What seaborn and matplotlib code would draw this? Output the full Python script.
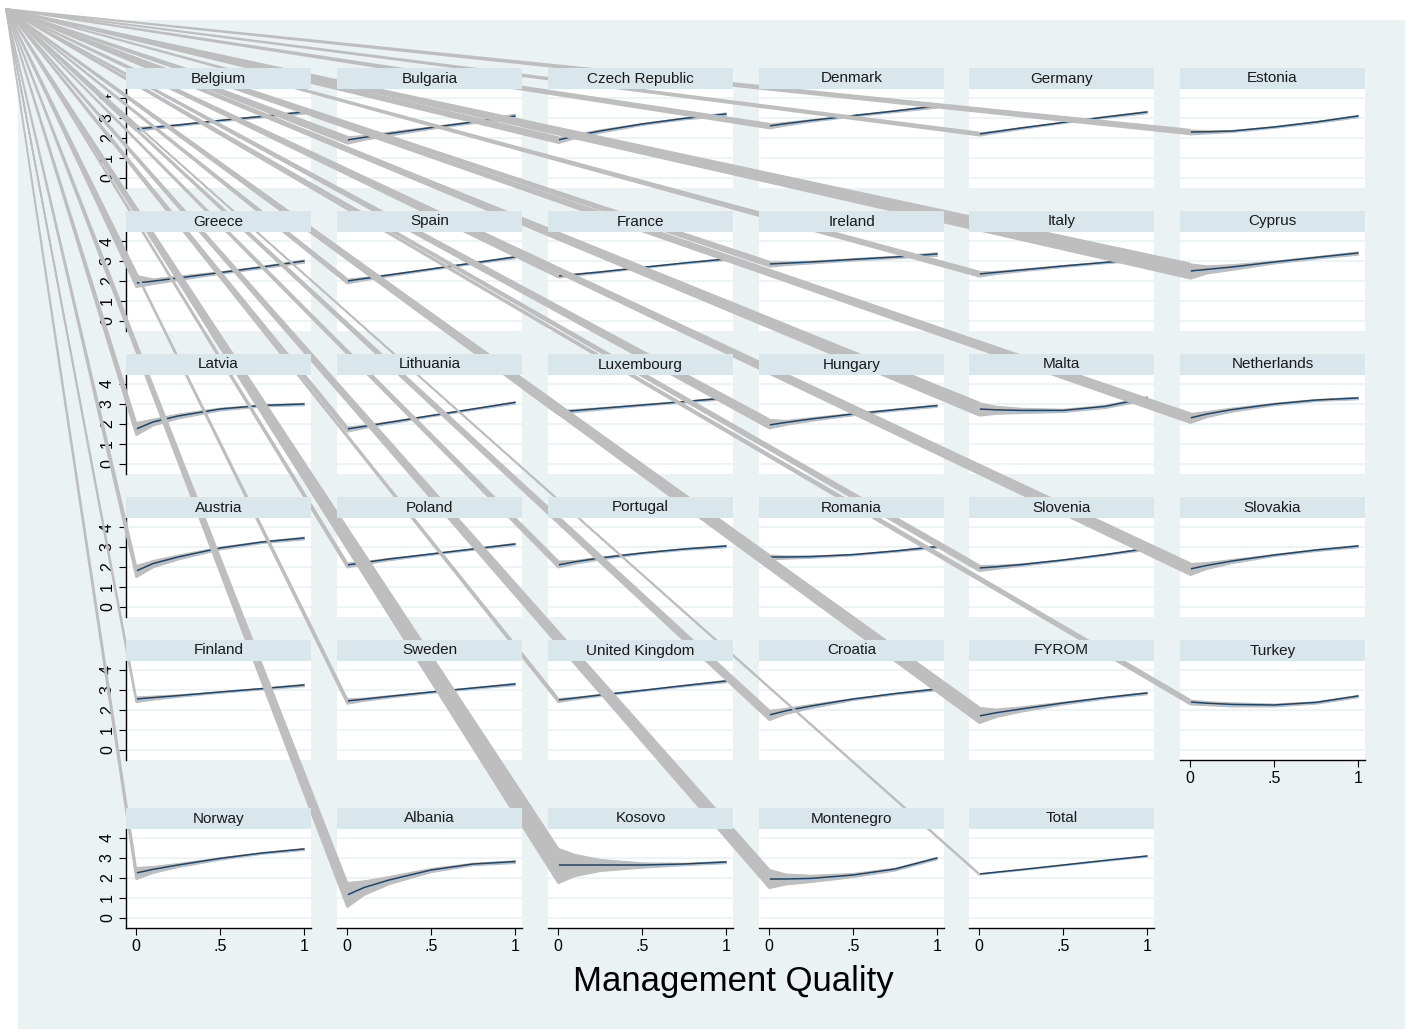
import numpy as np
import pandas as pd
import matplotlib
matplotlib.use("Agg")
import matplotlib.pyplot as plt
from matplotlib.patches import Polygon, Rectangle
import seaborn as sns

# Fitted values on a grid of management-quality scores, with 95% bands
x_grid = [0.0, 0.1, 0.25, 0.5, 0.75, 1.0]

countries = [
    "Belgium", "Bulgaria", "Czech Republic", "Denmark", "Germany", "Estonia",
    "Greece", "Spain", "France", "Ireland", "Italy", "Cyprus",
    "Latvia", "Lithuania", "Luxembourg", "Hungary", "Malta", "Netherlands",
    "Austria", "Poland", "Portugal", "Romania", "Slovenia", "Slovakia",
    "Finland", "Sweden", "United Kingdom", "Croatia", "FYROM", "Turkey",
    "Norway", "Albania", "Kosovo", "Montenegro", "Total",
]

fit = [
    [2.45, 2.53, 2.65, 2.88, 3.08, 3.30], [1.90, 2.03, 2.22, 2.52, 2.80, 3.10],
    [1.90, 2.10, 2.35, 2.70, 2.98, 3.20], [2.60, 2.72, 2.88, 3.12, 3.35, 3.60],
    [2.20, 2.32, 2.50, 2.78, 3.05, 3.30], [2.30, 2.31, 2.35, 2.55, 2.80, 3.10],
    [1.90, 1.99, 2.15, 2.42, 2.70, 3.00], [2.00, 2.12, 2.30, 2.60, 2.90, 3.20],
    [2.25, 2.33, 2.45, 2.68, 2.90, 3.10], [2.85, 2.89, 2.95, 3.08, 3.20, 3.35],
    [2.35, 2.43, 2.55, 2.75, 2.93, 3.10], [2.50, 2.58, 2.70, 2.95, 3.18, 3.40],
    [1.75, 2.10, 2.40, 2.75, 2.93, 3.00], [1.75, 1.88, 2.08, 2.42, 2.75, 3.08],
    [2.60, 2.67, 2.78, 2.95, 3.12, 3.30], [1.95, 2.08, 2.25, 2.50, 2.72, 2.92],
    [2.75, 2.71, 2.68, 2.68, 2.88, 3.30], [2.30, 2.50, 2.72, 3.00, 3.20, 3.30],
    [1.80, 2.17, 2.50, 2.95, 3.25, 3.45], [2.10, 2.22, 2.40, 2.65, 2.90, 3.15],
    [2.10, 2.26, 2.45, 2.70, 2.90, 3.05], [2.50, 2.50, 2.52, 2.62, 2.80, 3.02],
    [1.95, 2.01, 2.12, 2.35, 2.62, 2.92], [1.90, 2.08, 2.30, 2.60, 2.85, 3.05],
    [2.55, 2.62, 2.72, 2.90, 3.07, 3.25], [2.45, 2.54, 2.68, 2.90, 3.10, 3.30],
    [2.50, 2.60, 2.75, 2.98, 3.22, 3.45], [1.75, 1.96, 2.20, 2.55, 2.82, 3.05],
    [1.70, 1.86, 2.05, 2.35, 2.62, 2.85], [2.40, 2.34, 2.28, 2.25, 2.38, 2.70],
    [2.25, 2.43, 2.65, 2.98, 3.25, 3.45], [1.15, 1.52, 1.90, 2.40, 2.70, 2.82],
    [2.65, 2.65, 2.65, 2.65, 2.70, 2.80], [1.95, 1.95, 1.98, 2.15, 2.45, 3.00],
    [2.20, 2.29, 2.42, 2.65, 2.88, 3.10],
]

lower = [
    [2.35, 2.46, 2.60, 2.84, 3.03, 3.22], [1.72, 1.91, 2.12, 2.46, 2.74, 2.98],
    [1.75, 1.99, 2.27, 2.65, 2.93, 3.12], [2.48, 2.63, 2.82, 3.08, 3.30, 3.52],
    [2.12, 2.26, 2.45, 2.75, 3.01, 3.24], [2.18, 2.23, 2.30, 2.51, 2.75, 3.04],
    [1.70, 1.85, 2.05, 2.36, 2.64, 2.92], [1.88, 2.04, 2.24, 2.56, 2.86, 3.14],
    [2.18, 2.28, 2.41, 2.65, 2.87, 3.05], [2.72, 2.80, 2.88, 3.02, 3.14, 3.26],
    [2.22, 2.35, 2.49, 2.70, 2.89, 3.04], [2.12, 2.38, 2.56, 2.88, 3.12, 3.32],
    [1.45, 1.93, 2.28, 2.68, 2.88, 2.94], [1.62, 1.80, 2.02, 2.38, 2.71, 3.02],
    [2.48, 2.59, 2.72, 2.91, 3.08, 3.24], [1.78, 1.96, 2.16, 2.44, 2.67, 2.86],
    [2.42, 2.51, 2.55, 2.60, 2.80, 3.20], [2.05, 2.35, 2.62, 2.94, 3.15, 3.24],
    [1.50, 1.99, 2.38, 2.88, 3.20, 3.38], [1.98, 2.14, 2.34, 2.61, 2.86, 3.09],
    [1.98, 2.17, 2.38, 2.66, 2.86, 2.99], [2.38, 2.42, 2.46, 2.58, 2.76, 2.96],
    [1.80, 1.91, 2.06, 2.31, 2.58, 2.86], [1.60, 1.91, 2.20, 2.55, 2.80, 2.99],
    [2.40, 2.52, 2.66, 2.86, 3.03, 3.19], [2.32, 2.46, 2.62, 2.86, 3.06, 3.24],
    [2.40, 2.54, 2.70, 2.95, 3.18, 3.39], [1.50, 1.81, 2.10, 2.50, 2.78, 2.99],
    [1.35, 1.65, 1.92, 2.28, 2.57, 2.79], [2.28, 2.24, 2.18, 2.18, 2.32, 2.64],
    [1.95, 2.26, 2.55, 2.92, 3.21, 3.40], [0.55, 1.16, 1.70, 2.30, 2.64, 2.75],
    [1.75, 2.10, 2.35, 2.52, 2.64, 2.74], [1.50, 1.68, 1.80, 2.05, 2.38, 2.94],
    [2.17, 2.27, 2.40, 2.63, 2.86, 3.07],
]

upper = [
    [2.55, 2.60, 2.70, 2.92, 3.13, 3.38], [2.08, 2.15, 2.32, 2.58, 2.86, 3.22],
    [2.05, 2.21, 2.43, 2.75, 3.03, 3.28], [2.72, 2.81, 2.94, 3.16, 3.40, 3.68],
    [2.28, 2.38, 2.55, 2.81, 3.09, 3.36], [2.42, 2.39, 2.40, 2.59, 2.85, 3.16],
    [2.30, 2.13, 2.27, 2.48, 2.76, 3.08], [2.12, 2.20, 2.36, 2.64, 2.94, 3.26],
    [2.32, 2.38, 2.49, 2.71, 2.93, 3.15], [2.98, 2.98, 3.02, 3.14, 3.26, 3.44],
    [2.48, 2.51, 2.61, 2.80, 2.97, 3.16], [2.88, 2.78, 2.84, 3.02, 3.24, 3.48],
    [2.10, 2.27, 2.52, 2.82, 2.98, 3.06], [1.88, 1.96, 2.14, 2.46, 2.79, 3.14],
    [2.72, 2.75, 2.84, 2.99, 3.16, 3.36], [2.25, 2.20, 2.34, 2.56, 2.77, 2.98],
    [3.08, 2.91, 2.81, 2.76, 2.96, 3.40], [2.55, 2.65, 2.82, 3.06, 3.25, 3.36],
    [2.10, 2.35, 2.62, 3.02, 3.30, 3.52], [2.22, 2.30, 2.46, 2.69, 2.94, 3.21],
    [2.32, 2.35, 2.52, 2.74, 2.94, 3.11], [2.62, 2.58, 2.58, 2.66, 2.84, 3.08],
    [2.10, 2.11, 2.18, 2.39, 2.66, 2.98], [2.20, 2.25, 2.40, 2.65, 2.90, 3.11],
    [2.68, 2.72, 2.78, 2.94, 3.11, 3.31], [2.58, 2.62, 2.74, 2.94, 3.14, 3.36],
    [2.60, 2.66, 2.80, 3.01, 3.26, 3.51], [2.00, 2.11, 2.30, 2.60, 2.86, 3.11],
    [2.15, 2.07, 2.18, 2.42, 2.67, 2.91], [2.52, 2.44, 2.38, 2.32, 2.44, 2.76],
    [2.55, 2.60, 2.75, 3.04, 3.29, 3.50], [1.80, 1.88, 2.10, 2.50, 2.76, 2.89],
    [3.50, 3.20, 2.95, 2.78, 2.76, 2.86], [2.45, 2.22, 2.16, 2.25, 2.52, 3.06],
    [2.23, 2.31, 2.44, 2.67, 2.90, 3.13],
]

y_ticks = [0, 1, 2, 3, 4]
x_ticks = [0, 0.5, 1]
x_tick_labels = ["0", ".5", "1"]
x_title = "Management Quality"

# ---------------------------------------------------------------- styling
sns.set_theme(style="white")
plt.rcParams["font.family"] = ["Liberation Sans", "DejaVu Sans"]

W, H = 1420, 1032
fig = plt.figure(figsize=(W / 100, H / 100), dpi=100, facecolor="white")

PLOT_BG = "#EAF2F3"
STRIP_BG = "#D9E6EB"
LINE_C = "#1A476F"
BAND_C = "#BEBEBE"
APEX = (6, 9)  # pixel position where each band's outline is anchored


def frac(left, top, w, h):
    return [left / W, 1 - (top + h) / H, w / W, h / H]


fig.add_artist(Rectangle((18 / W, 1 - 1029 / H), (1405 - 18) / W, (1029 - 20) / H,
                         transform=fig.transFigure, facecolor=PLOT_BG,
                         edgecolor="none", zorder=-20))

col_left = [126, 337, 548, 759, 969, 1180]
strip_top = [68, 211, 354, 497, 640, 808]
PW, SH, PH = 185, 21, 99

for i, name in enumerate(countries):
    r, c = divmod(i, 6)
    left, top = col_left[c], strip_top[r] + SH
    ax = fig.add_axes(frac(left, top, PW, PH), zorder=0)
    ax.set_facecolor("white")
    ax.set_xlim(-0.06, 1.042)
    ax.set_ylim(-0.5, 4.45)
    for yv in y_ticks:
        ax.axhline(yv, color=PLOT_BG, lw=1.2, zorder=0)

    df = pd.DataFrame({"q": x_grid, "fit": fit[i], "lo": lower[i], "hi": upper[i]})
    ax.fill_between(df["q"], df["lo"], df["hi"], facecolor=BAND_C,
                    edgecolor=BAND_C, lw=0.8, zorder=1)
    sns.lineplot(data=df, x="q", y="fit", ax=ax, color=LINE_C, lw=1.1, zorder=2)
    ax.set_xlabel("")
    ax.set_ylabel("")

    for s in ["top", "right"]:
        ax.spines[s].set_visible(False)

    show_x = (r == 5) or (name == "Turkey")
    show_y = (c == 0)

    ax.set_xticks(x_ticks)
    ax.set_yticks(y_ticks)
    if show_x:
        ax.spines["bottom"].set_color("black")
        ax.spines["bottom"].set_linewidth(1.0)
        ax.set_xticklabels(x_tick_labels)
        ax.tick_params(axis="x", bottom=True, length=5, width=0.8, pad=3,
                       labelsize=11.5, colors="black")
    else:
        ax.spines["bottom"].set_visible(False)
        ax.tick_params(axis="x", bottom=False, labelbottom=False)
    if show_y:
        ax.spines["left"].set_color("black")
        ax.spines["left"].set_linewidth(1.0)
        ax.set_yticklabels([str(v) for v in y_ticks])
        ax.tick_params(axis="y", left=True, length=5, width=0.8, pad=3,
                       labelsize=11.5, colors="black", labelrotation=90)
        for t in ax.get_yticklabels():
            t.set_va("center")
    else:
        ax.spines["left"].set_visible(False)
        ax.tick_params(axis="y", left=False, labelleft=False)
    ax.grid(False)

    # outline of the band running back to the anchor point
    p_hi = ax.transData.transform((x_grid[0], upper[i][0]))
    p_lo = ax.transData.transform((x_grid[0], lower[i][0]))
    apex = (APEX[0], H - APEX[1])
    pts = fig.transFigure.inverted().transform([apex, p_hi, p_lo])
    fig.add_artist(Polygon(pts, closed=True, transform=fig.transFigure,
                           facecolor=BAND_C, edgecolor=BAND_C, lw=1.2,
                           joinstyle="round", zorder=3 + i * 0.01))

    # title strip
    sax = fig.add_axes(frac(left, strip_top[r], PW, SH), zorder=10)
    sax.set_facecolor(STRIP_BG)
    sax.set_xticks([])
    sax.set_yticks([])
    for s in sax.spines.values():
        s.set_visible(False)
    sax.text(0.5, 0.5, name, ha="center", va="center", fontsize=11,
             color="#1a1a1a", transform=sax.transAxes)

fig.text(733 / W, 1 - 981 / H, x_title, ha="center", va="center",
         fontsize=25, color="black")

fig.savefig("out.png", dpi=100, facecolor="white")
